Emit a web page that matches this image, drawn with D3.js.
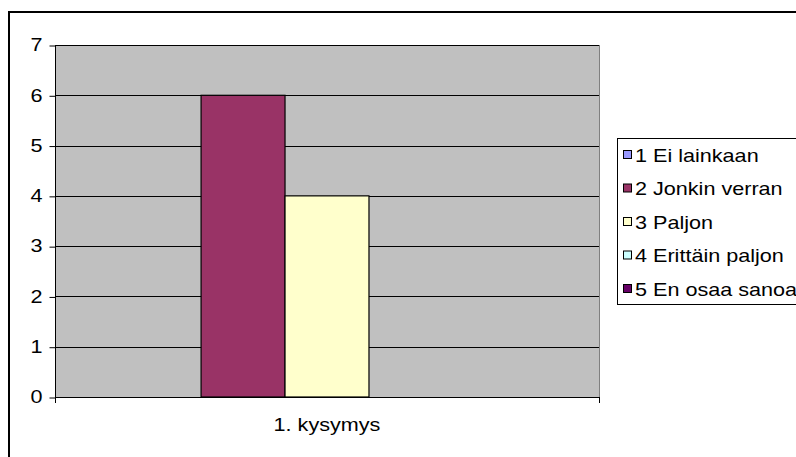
<!DOCTYPE html>
<html>
<head>
<meta charset="utf-8">
<script src="https://d3js.org/d3.v7.min.js"></script>
<style>
  body { margin: 0; background: #fff; }
  text { font-family: Arial, "Liberation Sans", sans-serif; fill: #000; }
</style>
</head>
<body>
<div id="chart"></div>
<script>
// chart data
var categories = ["1. kysymys"];
var seriesNames = ["1 Ei lainkaan", "2 Jonkin verran", "3 Paljon", "4 Erittäin paljon", "5 En osaa sanoa"];
var seriesValues = [0, 6, 4, 0, 0];
var seriesColors = ["#9999FF", "#993366", "#FFFFCC", "#CCFFFF", "#660066"];
var yTicks = [0, 1, 2, 3, 4, 5, 6, 7];

var svgWidth = 796;
var svgHeight = 457;
var fontSize = 18;
var stretch = 1.2; // the original text is drawn a bit wide

var plot = { left: 55, top: 45, right: 599, bottom: 397 };

var svg = d3.select("#chart")
  .append("svg")
  .attr("width", svgWidth)
  .attr("height", svgHeight);

// outer chart border (runs off the right/bottom edge)
svg.append("rect")
  .attr("x", 9)
  .attr("y", 12)
  .attr("width", 800)
  .attr("height", 460)
  .attr("fill", "#fff")
  .attr("stroke", "#000")
  .attr("stroke-width", 2);

// scales
var yScale = d3.scaleLinear()
  .domain([0, 7])
  .range([plot.bottom, plot.top]);

var xScale = d3.scaleBand()
  .domain(categories)
  .range([plot.left, plot.right])
  .paddingInner(0)
  .paddingOuter(0.148);

var xSeries = d3.scaleBand()
  .domain(seriesNames)
  .range([0, xScale.bandwidth()]);

// plot area
svg.append("rect")
  .attr("x", plot.left)
  .attr("y", plot.top)
  .attr("width", plot.right - plot.left)
  .attr("height", plot.bottom - plot.top)
  .attr("fill", "#C0C0C0");

svg.append("line")
  .attr("x1", plot.right + 0.5).attr("x2", plot.right + 0.5)
  .attr("y1", plot.top).attr("y2", plot.bottom)
  .attr("stroke", "#808080");

// gridlines
svg.append("g")
  .selectAll("line")
  .data(yTicks.slice(1))
  .enter()
  .append("line")
  .attr("x1", plot.left)
  .attr("x2", plot.right)
  .attr("y1", d => Math.round(yScale(d)) + 0.5)
  .attr("y2", d => Math.round(yScale(d)) + 0.5)
  .attr("stroke", "#000");

// bars
var group = svg.append("g")
  .attr("transform", `translate(${xScale(categories[0])}, 0)`);

var barData = seriesNames.map((name, i) => ({ name: name, value: seriesValues[i], color: seriesColors[i] }));

group.selectAll("rect")
  .data(barData.filter(d => d.value > 0))
  .enter()
  .append("rect")
  .attr("x", d => xSeries(d.name))
  .attr("y", d => yScale(d.value))
  .attr("width", xSeries.bandwidth())
  .attr("height", d => yScale(0) - yScale(d.value))
  .attr("fill", d => d.color)
  .attr("stroke", "#000")
  .attr("stroke-width", 1.2);

// y axis
var leftAxis = d3.axisLeft(yScale)
  .tickValues(yTicks)
  .tickSize(6)
  .tickFormat(d3.format("d"));

var yAxisG = svg.append("g")
  .attr("transform", `translate(${plot.left + 0.5}, 0)`)
  .call(leftAxis);
yAxisG.selectAll("text")
  .style("font-size", fontSize + "px")
  .attr("fill", "#000")
  .attr("x", 0)
  .attr("transform", `translate(-13, 0) scale(${stretch}, 1)`);
yAxisG.selectAll("line").attr("stroke", "#000");
yAxisG.select(".domain").attr("stroke", "#000").attr("d", `M0,${plot.top}V${plot.bottom}`);
yAxisG.selectAll(".tick line").attr("transform", "translate(0,0.5)");

// x axis
svg.append("line")
  .attr("x1", plot.left).attr("x2", plot.right + 1)
  .attr("y1", plot.bottom + 0.5).attr("y2", plot.bottom + 0.5)
  .attr("stroke", "#000");

svg.append("g")
  .selectAll("line")
  .data([plot.left, plot.right])
  .enter()
  .append("line")
  .attr("x1", d => d + 0.5).attr("x2", d => d + 0.5)
  .attr("y1", plot.bottom).attr("y2", plot.bottom + 6)
  .attr("stroke", "#000");

svg.append("g")
  .selectAll("text")
  .data(categories)
  .enter()
  .append("text")
  .attr("transform", d => `translate(${xScale(d) + xScale.bandwidth() / 2}, ${plot.bottom + 34}) scale(${stretch}, 1)`)
  .attr("text-anchor", "middle")
  .style("font-size", fontSize + "px")
  .text(d => d);

// legend
var legend = svg.append("g");
legend.append("rect")
  .attr("x", 617.5)
  .attr("y", 138.5)
  .attr("width", 200)
  .attr("height", 166)
  .attr("fill", "#fff")
  .attr("stroke", "#000");

var items = legend.selectAll("g.item")
  .data(seriesNames)
  .enter()
  .append("g")
  .attr("class", "item")
  .attr("transform", (d, i) => `translate(623, ${155 + i * 33.5})`);

items.append("rect")
  .attr("x", 0.5)
  .attr("y", -4.5)
  .attr("width", 8)
  .attr("height", 8)
  .attr("fill", (d, i) => seriesColors[i])
  .attr("stroke", "#000");

items.append("text")
  .attr("transform", `translate(12, 6.5) scale(${stretch}, 1)`)
  .style("font-size", fontSize + "px")
  .text(d => d);
</script>
</body>
</html>
